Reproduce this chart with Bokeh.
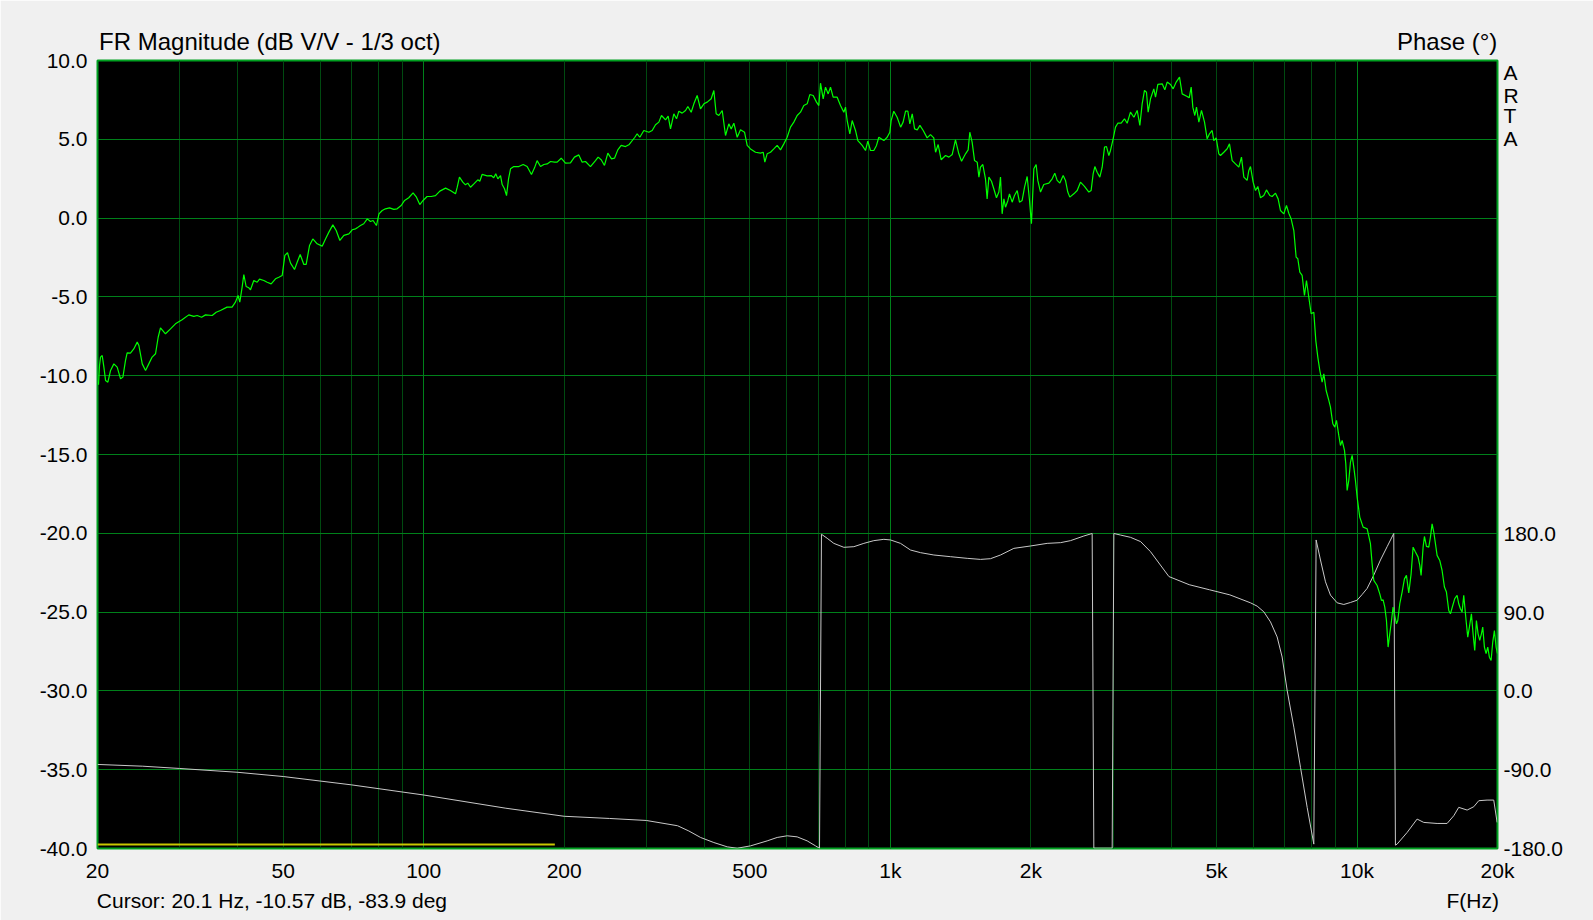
from bokeh.plotting import figure
from bokeh.models import Range1d, FixedTicker, Grid, PrintfTickFormatter, LinearAxis, LinearScale
from bokeh.embed import file_html
from bokeh.resources import INLINE

# ---------------- data ----------------
mag_freq_a = [20.1, 20.2, 20.3, 20.47, 20.64, 20.81, 21.05, 21.33, 21.68, 22.04, 22.41, 22.67, 22.96, 23.15,
              23.53, 23.92, 24.33, 24.53, 24.94, 25.35, 25.76, 26.19, 26.63, 26.98, 27.29, 27.97, 28.67, 29.38,
              30.36, 31.38, 32.17, 32.71, 33.42, 34.08, 35.22, 35.92, 36.68, 37.90, 38.85, 39.50, 40.02, 40.36,
              40.83, 41.17, 41.64, 42.20, 42.55, 43.25, 43.97, 44.48, 45.44, 46.20, 47.12, 48.13, 48.93, 49.75,
              50.41, 51.07, 51.84, 52.87, 53.57, 54.37, 55.36, 56.0, 56.93, 57.87, 59.12, 60.60, 61.60, 62.64,
              63.88, 64.94, 66.13, 67.45, 69.13, 70.28, 71.45]
mag_db_a = [-10.57, -9.35, -8.82, -8.72, -9.46, -10.30, -10.41, -9.67, -9.25, -9.46, -10.20, -10.09, -9.04, -8.55,
            -8.57, -8.30, -7.87, -8.08, -9.25, -9.67, -9.25, -8.82, -8.61, -7.56, -6.96, -7.34, -7.03, -6.71,
            -6.45, -6.14, -6.24, -6.18, -6.29, -6.14, -6.18, -5.97, -5.86, -5.65, -5.65, -5.33, -4.91, -5.33,
            -4.38, -3.58, -4.34, -4.42, -4.55, -3.96, -4.07, -3.87, -3.96, -4.07, -4.17, -3.85, -3.75, -3.64,
            -2.37, -2.20, -2.86, -3.26, -2.80, -2.31, -2.94, -2.94, -1.74, -1.32, -1.63, -1.78, -1.32, -0.89,
            -0.43, -0.79, -1.42, -1.10, -1.00, -0.74, -0.68]

mag_freq_b = [72.0, 73.2, 74.4, 75.7, 76.9, 77.9, 79.2, 80.2, 81.5, 82.8, 84.5, 86.3, 87.7, 89.5, 91.0, 92.9,
              94.9, 96.5, 98.1, 99.7, 101.7, 103.8, 106.0, 108.3, 111.4, 114.1, 117.0, 118.0, 119.3, 121.3,
              122.9, 124.3, 126.0, 128.1, 130.6, 131.9, 133.4, 136.8, 139.5, 141.3, 142.7, 144.2, 146.1, 147.3,
              149.0, 150.5, 152.0, 153.5, 156.0, 159.9, 163.4, 166.6, 170.2, 172.8, 175.0, 178.0, 180.9, 183.9,
              187.0, 190.7, 193.2, 197.1, 201.3, 206.3, 210.4, 215.0, 218.6, 222.2, 227.7, 233.4, 236.5, 240.1,
              244.0, 248.1, 252.6, 256.4, 260.6, 265.0, 270.7, 275.2]
mag_db_b = [-0.62, -0.47, -0.36, -0.05, -0.22, -0.15, -0.47, 0.27, 0.48, 0.59, 0.65, 0.55, 0.59, 0.80, 1.12, 1.29,
            1.60, 1.33, 0.86, 1.12, 1.37, 1.37, 1.43, 1.71, 1.90, 1.75, 1.54, 1.96, 2.60, 2.28,
            2.11, 2.22, 1.96, 2.17, 2.43, 2.34, 2.77, 2.68, 2.70, 2.56, 2.81, 2.49, 2.70, 2.13,
            1.86, 1.43, 2.49, 3.13, 3.27, 3.27, 3.40, 3.27, 2.77, 3.19, 3.65, 3.27, 3.40, 3.44,
            3.59, 3.55, 3.55, 3.80, 3.49, 3.51, 3.87, 4.01, 3.55, 3.59, 3.27, 3.65, 3.87, 3.70,
            3.34, 4.12, 3.76, 3.80, 4.33, 4.61, 4.54, 4.65]

mag_freq_c = [283.5, 286.7, 290.5, 296.3, 303.7, 308.8, 313.9, 319.1, 323.3, 329.8, 334.1, 338.0, 343.6, 348.2,
              352.2, 358.0, 364.0, 368.2, 374.3, 379.3, 385.5, 391.9, 398.5, 405.1, 413.1, 418.6, 423.4, 429.0,
              436.2, 443.4, 450.7, 456.0, 462.0, 469.7, 477.4, 487.0, 493.4, 501.6, 514.1, 526.9, 533.9, 538.3,
              544.5, 553.6, 562.7, 572.1, 581.6, 591.2, 601.0, 611.0, 621.1, 631.4, 641.9, 652.5, 663.4, 672.1,
              683.3, 694.6, 702.7, 708.5, 717.9, 726.2, 735.8, 744.3, 754.1, 769.2, 781.9, 794.9, 801.5, 808.1,
              818.8, 828.3, 842.0, 851.8, 870.2, 884.6, 894.8, 906.7, 921.7, 933.9, 944.7, 968.4, 984.4, 997.5,
              1004.0, 1017.0, 1034.0]
mag_db_c = [5.13, 5.35, 5.13, 5.56, 5.45, 5.56, 5.92, 6.09, 6.51, 6.23, 6.47, 5.66, 6.62, 6.30,
            6.78, 6.66, 6.83, 7.08, 6.72, 7.25, 7.78, 6.93, 7.25, 7.36, 7.57, 8.10, 6.62, 6.51,
            6.83, 5.24, 5.98, 5.66, 6.02, 5.13, 5.60, 5.45, 4.61, 4.39, 4.18, 4.12, 4.18, 3.55,
            4.08, 4.18, 4.39, 4.61, 4.33, 4.71, 5.13, 5.77, 6.09, 6.51, 6.72, 7.14, 7.25, 7.84,
            7.78, 7.36, 7.14, 8.56, 7.57, 8.31, 7.88, 8.31, 7.67, 7.67, 7.14, 6.72, 7.04, 6.19,
            5.35, 6.19, 5.56, 4.92, 4.61, 4.29, 4.88, 4.29, 4.29, 4.61, 5.13, 4.92, 5.13, 5.45,
            6.19, 6.78, 6.40]

mag_freq_d = [1052, 1065, 1078, 1090, 1101, 1114, 1127, 1142, 1157, 1176,
              1199, 1219, 1239, 1250, 1266, 1285, 1313, 1335, 1357, 1379,
              1402, 1421, 1449, 1468, 1480, 1497, 1515, 1535, 1548, 1560,
              1578, 1599, 1612, 1626, 1647, 1666, 1688, 1708, 1722, 1736,
              1751, 1765, 1786, 1800, 1824, 1845, 1870, 1891, 1916, 1939,
              1964, 1987, 2006, 2030, 2053, 2070, 2098, 2132, 2186, 2222,
              2251, 2277, 2308, 2346, 2373, 2400, 2424, 2473, 2514, 2555,
              2606, 2663, 2693, 2720, 2743, 2774, 2811, 2844, 2877, 2905,
              2939, 2963, 3002, 3037, 3072, 3123, 3175, 3217, 3270, 3325,
              3380, 3425, 3464, 3504, 3539, 3568, 3610, 3669, 3700, 3743,
              3824, 3874, 3919, 3984, 4037, 4097, 4165, 4220, 4326, 4369,
              4412, 4448, 4492, 4529, 4582, 4642, 4712, 4774, 4829, 4893,
              4933, 4990, 5057, 5098]
mag_db_d = [5.77, 6.09, 6.79, 6.79, 5.98, 6.62, 5.66, 5.60, 5.88, 5.56,
            5.09, 5.30, 5.09, 4.18, 4.67, 3.70, 3.97, 3.87, 4.04, 4.97,
            4.08, 3.61, 4.08, 4.33, 5.45, 4.82, 3.65, 3.55, 2.60, 3.23,
            3.40, 2.49, 1.22, 2.60, 2.34, 1.86, 1.29, 1.65, 2.60, 0.27,
            1.22, 0.69, 1.12, 1.54, 1.01, 1.43, 1.75, 1.01, 1.12, 1.96,
            2.64, 1.12, -0.36, 3.13, 3.40, 2.39, 1.65, 2.13, 2.22, 2.49,
            2.85, 2.39, 2.22, 2.70, 2.39, 1.65, 1.33, 1.54, 1.75, 2.28,
            2.01, 1.65, 1.75, 2.81, 3.27, 2.91, 2.60, 3.23, 4.50, 4.54,
            3.97, 4.29, 5.03, 5.77, 6.02, 6.02, 6.30, 6.02, 6.72, 6.40,
            6.83, 5.88, 7.25, 8.10, 7.99, 6.72, 7.57, 8.20, 7.67, 8.48,
            8.52, 8.14, 8.63, 8.48, 8.20, 8.63, 8.94, 7.88, 7.72, 7.63,
            8.31, 7.04, 6.51, 7.04, 6.09, 6.83, 6.09, 5.03, 5.35, 5.56,
            4.92, 5.09, 4.08, 3.97]

mag_freq_e = [5183, 5269, 5330, 5401, 5490, 5581, 5655, 5721, 5815, 5863,
              5912, 5990, 6060, 6130, 6211, 6314, 6397, 6503, 6579, 6688,
              6776, 6855, 6968, 7061, 7142, 7225, 7321, 7405, 7467, 7541,
              7628, 7716, 7793, 7883, 7974, 8080, 8160, 8241, 8323, 8419,
              8489, 8587]
mag_db_e = [4.18, 4.40, 4.71, 3.65, 3.44, 3.23, 3.87, 2.60, 2.39, 3.02,
            3.27, 2.28, 1.75, 2.01, 1.29, 1.43, 1.79, 1.43, 1.37, 1.58,
            1.22, 0.48, 0.27, 0.80, 0.31, -0.05, -0.79, -2.48, -2.58, -3.43,
            -3.64, -4.91, -3.96, -5.02, -6.07, -5.97, -7.77, -8.82, -9.67, -10.41,
            -9.88, -10.94]

mag_freq_f = [8701, 8772, 8874, 8962, 9036, 9140, 9216, 9292, 9400, 9461,
              9524, 9602, 9682, 9762, 9842, 9923, 10005, 10137, 10306, 10511,
              10685, 10774, 10862, 11043, 11189, 11281, 11374, 11468, 11563, 11658,
              11754, 11832, 11949, 12028, 12147, 12227, 12349, 12492, 12636, 12761,
              12909, 13059, 13188, 13341, 13517, 13629, 13719, 13855, 13946, 14085,
              14248, 14365, 14484, 14603, 14724, 14845, 15042, 15216, 15392, 15545,
              15725, 15855, 16038, 16197, 16384, 16519, 16656, 16793, 16932, 17128,
              17269, 17412, 17585, 17730, 17876, 18024, 18172, 18322, 18474, 18595,
              18749, 18904, 19060, 19217, 19376, 19536, 19697, 19864, 20000]
mag_db_f = [-11.57, -11.99, -13.05, -13.26, -12.84, -13.79, -14.43, -14.11, -14.74, -15.59,
            -17.28, -16.65, -15.48, -15.06, -15.80, -16.65, -17.70, -18.97, -19.61, -19.71,
            -20.66, -21.93, -22.99, -23.31, -23.84, -24.26, -24.22, -24.68, -25.53, -27.22,
            -26.38, -25.74, -24.68, -25.11, -25.74, -25.53, -24.47, -23.73, -22.89, -22.67,
            -23.79, -22.57, -20.88, -21.19, -21.51, -22.04, -22.67, -20.88, -20.20, -20.83,
            -20.88, -20.24, -19.40, -19.92, -20.66, -21.40, -21.72, -22.36, -23.41, -23.73,
            -24.90, -25.11, -24.58, -24.15, -23.94, -24.47, -24.79, -25.00, -23.94, -25.53,
            -26.59, -25.95, -25.11, -26.38, -27.43, -25.53, -26.38, -26.80, -26.38, -25.95,
            -27.22, -27.64, -27.22, -27.86, -28.07, -26.90, -26.17, -27.22, -27.64]

phase_freq = [20, 25, 30, 40, 50, 70, 100, 150, 200, 250,
              300, 350, 370, 392, 418.6, 447.1, 469.7, 501.6, 544.5, 572.1,
              601.0, 631.4, 663.4, 691.2, 705.0, 711.9, 732.2, 756.6, 794.9, 835.2,
              877.4, 921.7, 968.4, 1000.8, 1051.5, 1104.6, 1160.4, 1239.4, 1345.6, 1460.9,
              1560.3, 1639.1, 1722.0, 1839.1, 1996.6, 2167.8, 2315.2, 2432.2, 2597.8, 2706.8,
              2729.2, 2987.8, 3012.4, 3113.0, 3270.4, 3438.0, 3609.6, 3953, 4369, 4829,
              5339, 5912, 6110, 6314, 6525, 6743, 6911, 7084, 7321, 7566,
              7819, 8080, 8173, 8350, 8559, 8772, 9066, 9369, 9682, 10005,
              10255, 10511, 10862, 11226, 11601, 11988, 12087, 12187, 12804, 13451,
              13900, 14845, 15596, 16118, 16519, 17216, 17789, 18236, 18997, 19633,
              19962]
phase_deg = [-84, -86, -88.6, -93, -97.8, -107.3, -118.9, -134, -143.2, -145.7,
             -148, -154, -160, -167.4, -173.2, -178.1, -179.7, -177, -171.3, -167.4,
             -165.5, -166.7, -171.3, -177, -179.7, 178.9, 174.3, 168.5, 164, 164.7,
             168.5, 171.6, 173.1, 172.4, 168.5, 160.9, 157.9, 155.2, 153.3, 151.4,
             150.2, 151, 155.2, 162.8, 165.5, 168.5, 169.3, 171.6, 176.9, 179.8,
             -179.6, -179.6, 179.8, 178, 175.4, 170.5, 159, 130.6, 121.3, 115.5,
             109.7, 100.6, 96.8, 90.3, 78.8, 61.6, 38.7, 0.6, -41.4, -87.3,
             -133, -175, 172.4, 149.5, 124.6, 109.4, 100.6, 98.7, 101, 103.6,
             110.1, 117, 132.3, 149.5, 164.7, 179.8, -176.2, -175, -161.7, -146.4,
             -150.2, -151.4, -151.4, -142.6, -133, -136.1, -132.3, -125.4, -124.7, -124.7,
             -150.2]

yellow_freq = [20, 191]
yellow_db = [-39.75, -39.75]

x_label_freqs = [20, 50, 100, 200, 500, 1000, 2000, 5000, 10000, 20000]
x_label_texts = ["20", "50", "100", "200", "500", "1k", "2k", "5k", "10k", "20k"]
x_grid_freqs = [20, 30, 40, 50, 60, 70, 80, 90, 100, 200, 300, 400, 500, 600, 700, 800, 900,
                1000, 2000, 3000, 4000, 5000, 6000, 7000, 8000, 9000, 10000, 20000]
x_grid_major = [100, 1000, 10000]
db_ticks = [-40, -35, -30, -25, -20, -15, -10, -5, 0, 5, 10]
phase_ticks = [-180, -90, 0, 90, 180]
phase_labels = ["-180.0", "-90.0", "0.0", "90.0", "180.0"]

title_text = "FR Magnitude (dB V/V - 1/3 oct)"
phase_title = "Phase (\u00b0)"
cursor_text = "Cursor: 20.1 Hz, -10.57 dB, -83.9 deg"
xlabel_text = "F(Hz)"
brand_letters = ["A", "R", "T", "A"]

mag_freq = mag_freq_a + mag_freq_b + mag_freq_c + mag_freq_d + mag_freq_e + mag_freq_f
mag_db = mag_db_a + mag_db_b + mag_db_c + mag_db_d + mag_db_e + mag_db_f
assert len(mag_freq) == len(mag_db)
assert len(phase_freq) == len(phase_deg)

# ---------------- layout constants (pixels / relative positions) ----------------
FONT = "Liberation Sans"
W, H = 1593, 920
LEFT, TOP, FW, FH = 97, 60, 1400, 788
title_pos = [0.1231, 0.9640]          # centres of the two header texts (fraction of frame width)
footer_pos = [0.1246, 0.9823]         # centres of the two footer texts
brand_pos = [706.6, 680.0, 657.2, 630.6]  # vertical positions of the A/R/T/A letters on the phase scale

p = figure(width=W, height=H, x_axis_type="log",
           x_range=Range1d(20, 20000), y_range=Range1d(-40, 10),
           output_backend="svg", toolbar_location=None,
           background_fill_color="black", border_fill_color="#f0f0f0",
           min_border_left=LEFT, min_border_right=W - LEFT - FW,
           min_border_top=TOP, min_border_bottom=H - TOP - FH)
p.title.visible = False
p.extra_y_ranges = {"phase": Range1d(-180, 720)}
p.extra_y_scales = {"phase": LinearScale()}
p.extra_x_ranges = {"pos": Range1d(0, 1)}
p.extra_x_scales = {"pos": LinearScale()}

# grids
p.xgrid.ticker = FixedTicker(ticks=x_grid_freqs)
p.xgrid.grid_line_color = "#004a10"
p.xgrid.grid_line_width = 1
p.add_layout(Grid(dimension=0, ticker=FixedTicker(ticks=x_grid_major),
                  grid_line_color="#00801a", grid_line_width=1))
p.ygrid.ticker = FixedTicker(ticks=db_ticks[1:-1])
p.ygrid.grid_line_color = "#00801a"
p.ygrid.grid_line_width = 1

p.outline_line_color = "#00a020"
p.outline_line_width = 2


def style_axis(ax, size, standoff):
    ax.axis_line_color = None
    ax.major_tick_line_color = None
    ax.minor_tick_line_color = None
    ax.major_tick_out = 0
    ax.major_tick_in = 0
    ax.minor_tick_out = 0
    ax.minor_tick_in = 0
    ax.major_label_text_font = FONT
    ax.major_label_text_font_size = size
    ax.major_label_text_color = "black"
    ax.major_label_standoff = standoff


# main axes
p.xaxis.ticker = FixedTicker(ticks=x_label_freqs)
p.xaxis.major_label_overrides = dict(zip(x_label_freqs, x_label_texts))
p.yaxis.ticker = FixedTicker(ticks=db_ticks)
p.yaxis.formatter = PrintfTickFormatter(format="%.1f")
style_axis(p.xaxis[0], "21px", 10)
style_axis(p.yaxis[0], "21px", 10)

# right: phase scale (+ the vertical ARTA mark)
right_ticks = phase_ticks + brand_pos
right_labels = phase_labels + brand_letters
right_axis = LinearAxis(y_range_name="phase", ticker=FixedTicker(ticks=right_ticks),
                        major_label_overrides=dict(zip(right_ticks, right_labels)))
style_axis(right_axis, "21px", 6)
p.add_layout(right_axis, "right")

# top: header texts
top_axis = LinearAxis(x_range_name="pos", ticker=FixedTicker(ticks=title_pos),
                      major_label_overrides=dict(zip(title_pos, [title_text, phase_title])))
style_axis(top_axis, "24px", 6)
p.add_layout(top_axis, "above")

# bottom second row: cursor readout and axis name
foot_axis = LinearAxis(x_range_name="pos", ticker=FixedTicker(ticks=footer_pos),
                       major_label_overrides=dict(zip(footer_pos, [cursor_text, xlabel_text])))
style_axis(foot_axis, "21px", 4)
p.add_layout(foot_axis, "below")

# series
p.line(yellow_freq, yellow_db, line_color="#c8c800", line_width=2)
p.line(phase_freq, phase_deg, y_range_name="phase", line_color="#c8c8c8", line_width=1)
p.line(mag_freq, mag_db, line_color="#00ff00", line_width=1.2)

open("out.html", "w").write(file_html(p, INLINE))
